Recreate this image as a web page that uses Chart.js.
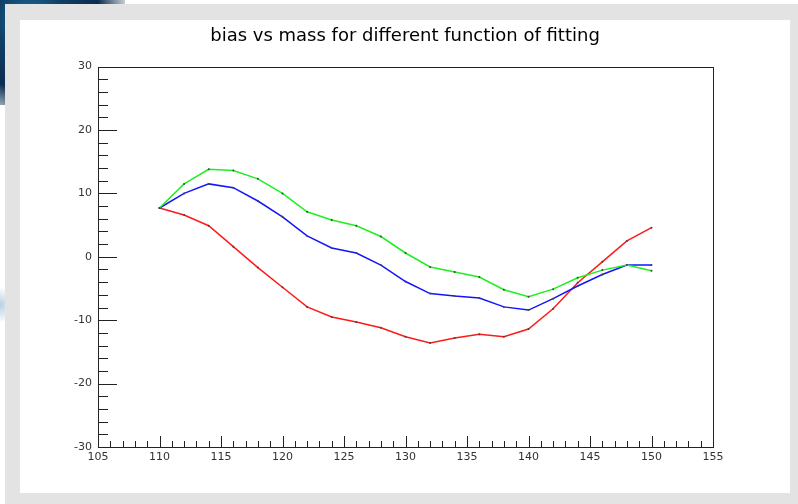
<!DOCTYPE html>
<html>
<head>
<meta charset="utf-8">
<script src="https://cdn.jsdelivr.net/npm/chart.js@4.4.1/dist/chart.umd.min.js"></script>
<style>
  body { margin: 0; width: 798px; height: 504px; background: #fff; position: relative; overflow: hidden; }
  #deco { position: absolute; left: 0; top: 0; width: 125px; height: 105px;
          background: radial-gradient(circle at 30px 20px, #1d6f9c 0, #0f3f66 35px, #0b2c4f 70px, rgba(11,44,79,0) 105px); }
  #smudge { position: absolute; left: 0; top: 285px; width: 20px; height: 40px;
            background: radial-gradient(ellipse at 0 20px, #b9cfe3 0, rgba(185,207,227,0) 18px); }
  #frame { position: absolute; left: 5px; top: 4px; width: 793px; height: 500px; background: #e3e3e3; }
  #panel { position: absolute; left: 20px; top: 20px; width: 770px; height: 473px; background: #fff; }
</style>
</head>
<body>
<div id="deco"></div>
<div id="smudge"></div>
<div id="frame"></div>
<div id="panel"><canvas id="mycanvas" width="770" height="473"></canvas></div>
<script>
// masses (x) and bias for each fit function
var masses = [110, 112, 114, 116, 118, 120, 122, 124, 126, 128, 130, 132, 134, 136, 138, 140, 142, 144, 146, 148, 150];
var greenBias = [7.7, 11.5, 13.8, 13.6, 12.3, 10.0, 7.1, 5.8, 4.9, 3.2, 0.6, -1.6, -2.4, -3.2, -5.2, -6.3, -5.1, -3.3, -2.1, -1.3, -2.2];
var blueBias = [7.7, 10.0, 11.5, 10.9, 8.8, 6.3, 3.3, 1.4, 0.6, -1.3, -3.9, -5.8, -6.2, -6.5, -7.9, -8.4, -6.6, -4.6, -2.8, -1.3, -1.3];
var redBias = [7.7, 6.6, 4.9, 1.6, -1.7, -4.8, -7.9, -9.5, -10.3, -11.2, -12.6, -13.6, -12.8, -12.2, -12.6, -11.4, -8.2, -4.1, -0.8, 2.5, 4.6];
var xTicks = [105, 110, 115, 120, 125, 130, 135, 140, 145, 150, 155];
var yTicks = [-30, -20, -10, 0, 10, 20, 30];

function toPoints(arr) {
    var pts = [];
    for (var i in masses) {
        pts.push({x: masses[i], y: arr[i]});
    }
    return pts;
}

function makeSet(arr, color) {
    return {
        data: toPoints(arr),
        borderColor: color,
        borderWidth: 1.5,
        pointRadius: 1,
        pointBackgroundColor: '#444',
        pointBorderWidth: 0,
        tension: 0,
        fill: false
    };
}

// ROOT style frame with ticks drawn inside the pad
var frameTicks = {
    id: 'frameTicks',
    afterDraw: function(chart) {
        var ctx = chart.ctx;
        var a = chart.chartArea;
        var xs = chart.scales.x, ys = chart.scales.y;
        ctx.save();
        ctx.strokeStyle = '#222';
        ctx.lineWidth = 1;
        ctx.strokeRect(Math.round(a.left) + 0.5, Math.round(a.top) + 0.5, Math.round(a.right - a.left), Math.round(a.bottom - a.top));
        ctx.beginPath();
        for (var v = 105; v <= 155; v++) {
            var px = Math.round(xs.getPixelForValue(v)) + 0.5;
            var len = (v % 5 == 0) ? 11 : 6;
            ctx.moveTo(px, a.bottom);
            ctx.lineTo(px, a.bottom - len);
        }
        for (var w = -30; w <= 30; w += 2) {
            var py = Math.round(ys.getPixelForValue(w)) + 0.5;
            var l2 = (w % 10 == 0) ? 19 : 10;
            ctx.moveTo(a.left, py);
            ctx.lineTo(a.left + l2, py);
        }
        ctx.stroke();
        ctx.restore();
    }
};

var chart = new Chart(document.getElementById('mycanvas'), {
    type: 'line',
    data: {
        datasets: [makeSet(greenBias, '#1ff01f'), makeSet(blueBias, '#1414ff'), makeSet(redBias, '#ff1a1a')]
    },
    options: {
        responsive: false,
        animation: false,
        layout: { padding: 0 },
        plugins: {
            legend: { display: false },
            tooltip: { enabled: false },
            title: {
                display: true,
                text: 'bias vs mass for different function of fitting',
                color: '#000',
                font: { family: 'DejaVu Sans', size: 18, weight: 'normal' },
                padding: { top: 6, bottom: 19 }
            }
        },
        scales: {
            x: {
                type: 'linear',
                min: 105,
                max: 155,
                afterFit: function(s) { s.height = 46; },
                afterBuildTicks: function(s) { s.ticks = xTicks.map(function(v) { return {value: v}; }); },
                grid: { display: false, drawTicks: false },
                border: { display: false },
                ticks: { padding: 4, color: '#333', autoSkip: false, maxRotation: 0,
                         font: { family: 'DejaVu Sans', size: 11 } }
            },
            y: {
                min: -30,
                max: 30,
                afterFit: function(s) { s.width = 78; },
                afterBuildTicks: function(s) { s.ticks = yTicks.map(function(v) { return {value: v}; }); },
                grid: { display: false, drawTicks: false },
                border: { display: false },
                ticks: { padding: 6, color: '#333',
                         font: { family: 'DejaVu Sans', size: 11 } }
            },
            // empty right side scale, only keeps the margin so the title stays centred
            yRight: {
                position: 'right',
                min: -30,
                max: 30,
                afterFit: function(s) { s.width = 77; },
                grid: { display: false, drawTicks: false },
                border: { display: false },
                ticks: { display: false }
            }
        }
    },
    plugins: [frameTicks]
});
</script>
</body>
</html>
